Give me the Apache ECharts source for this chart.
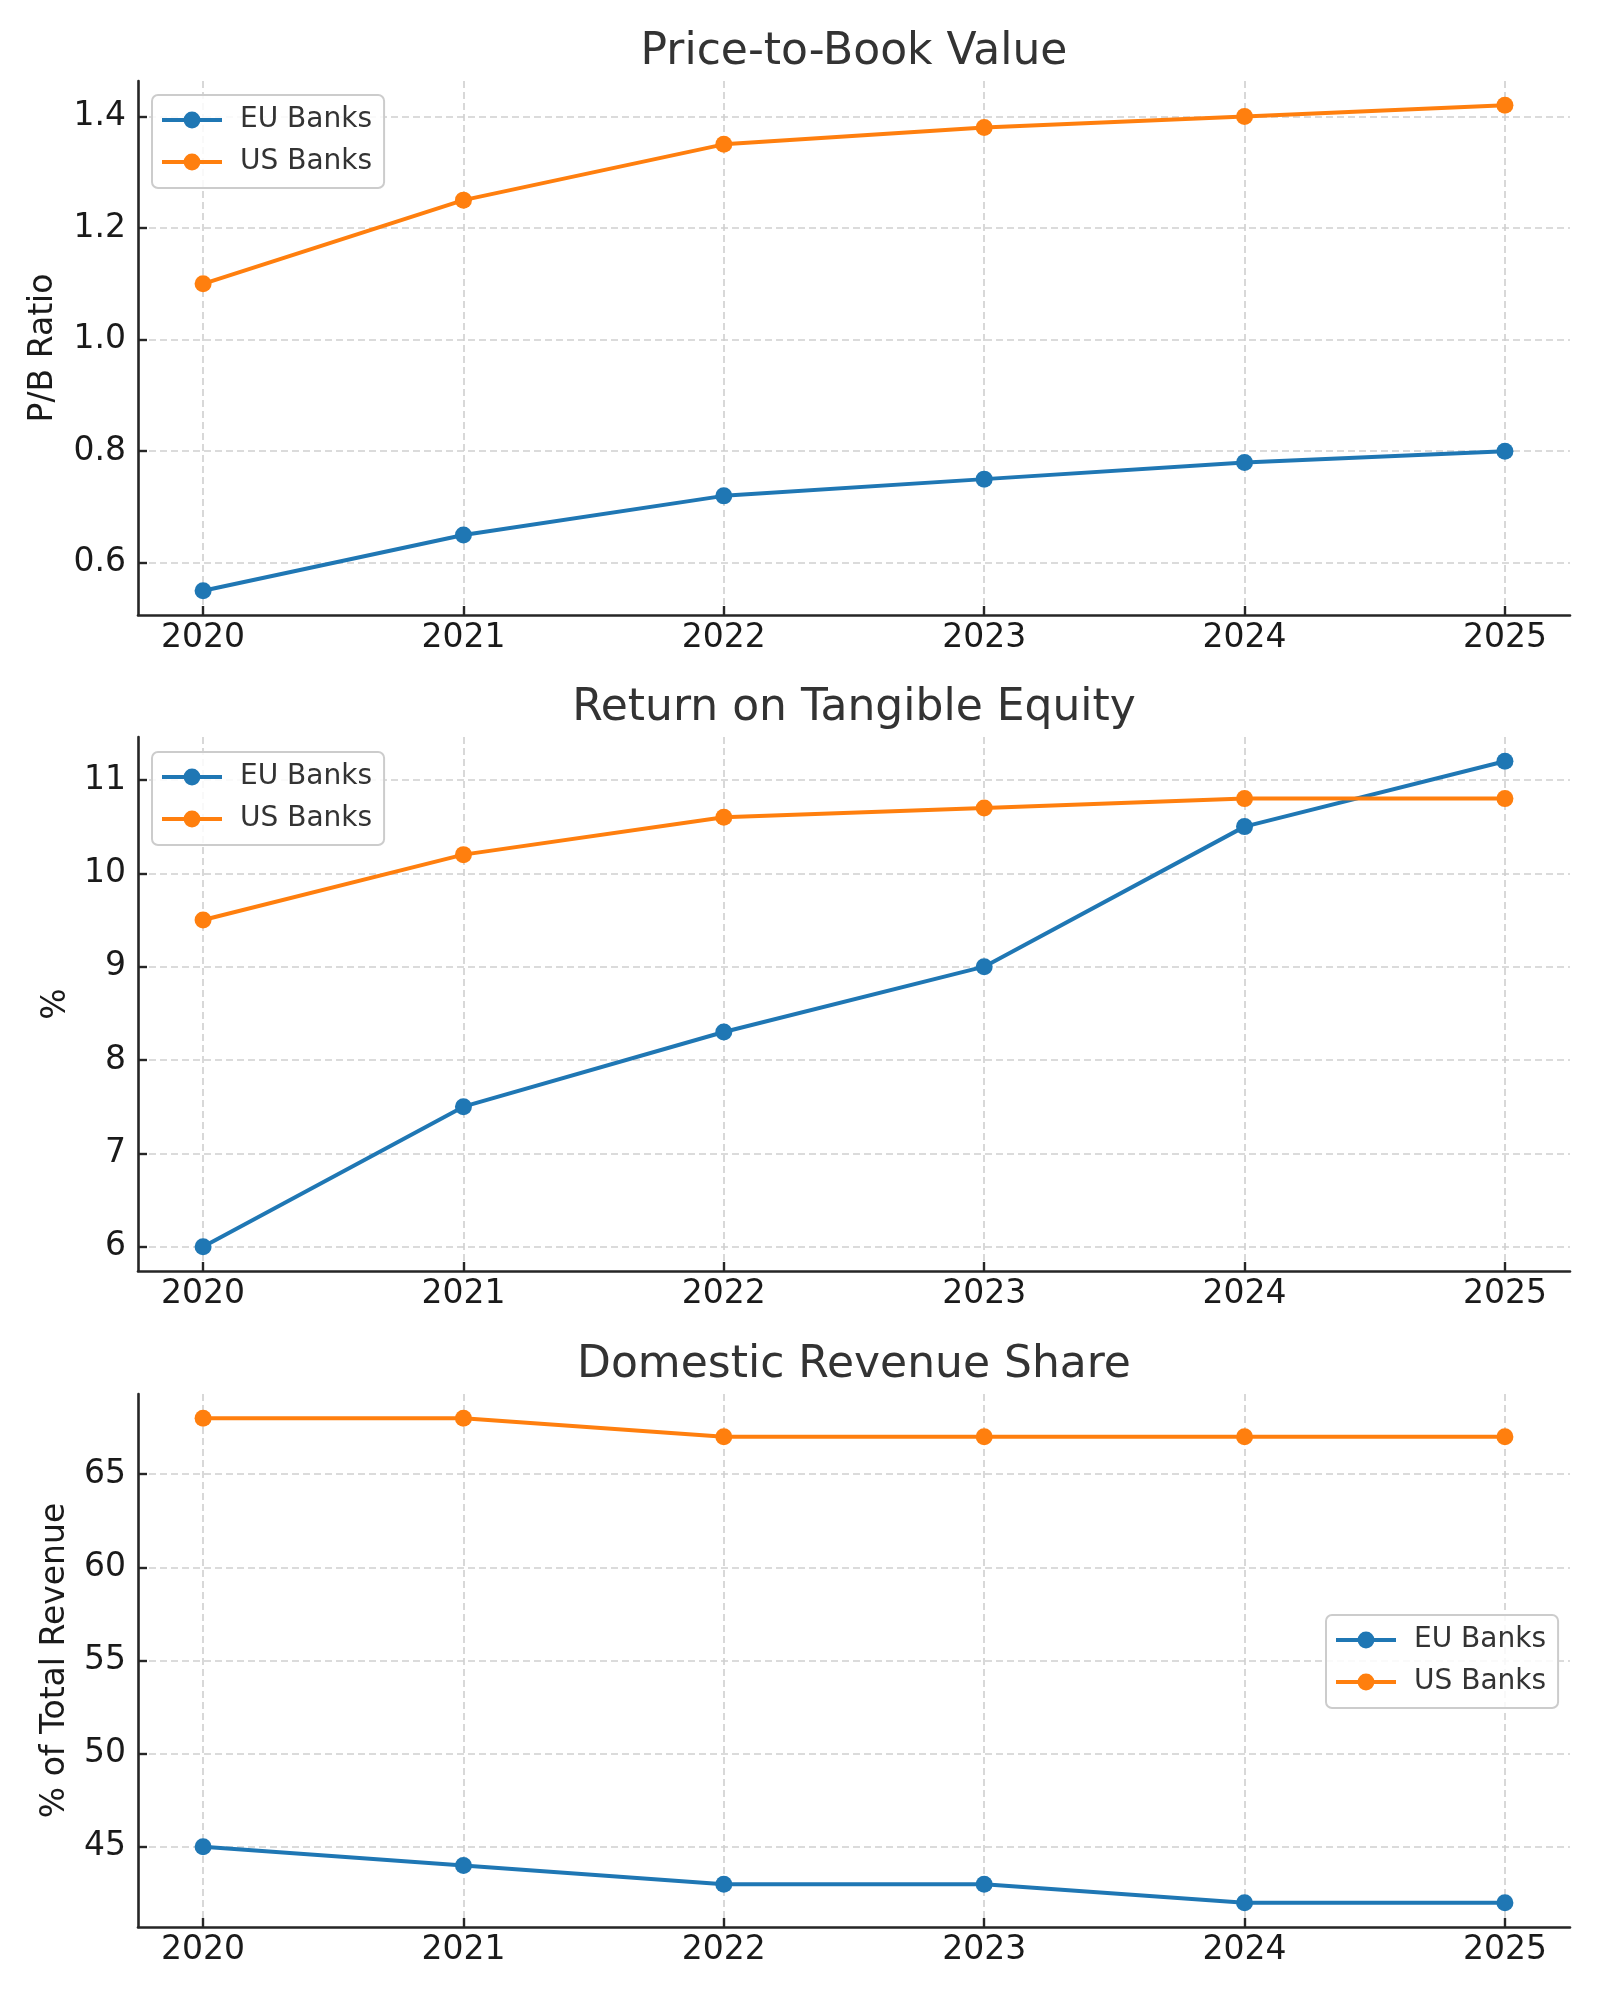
<!DOCTYPE html>
<html>
<head>
<meta charset="utf-8">
<script src="https://cdn.jsdelivr.net/npm/echarts@6/dist/echarts.min.js"></script>
<style>
html,body{margin:0;padding:0;background:#fff;}
#chart{width:1600px;height:2000px;}
</style>
</head>
<body>
<div id="chart"></div>
<script>
// ---- data ----
const years = [2020, 2021, 2022, 2023, 2024, 2025];
const seriesNames = ['EU Banks', 'US Banks'];
const pbEU = [0.55, 0.65, 0.72, 0.75, 0.78, 0.80];
const pbUS = [1.10, 1.25, 1.35, 1.38, 1.40, 1.42];
const roteEU = [6.0, 7.5, 8.3, 9.0, 10.5, 11.2];
const roteUS = [9.5, 10.2, 10.6, 10.7, 10.8, 10.8];
const domEU = [45, 44, 43, 43, 42, 42];
const domUS = [68, 68, 67, 67, 67, 67];
const pbTicks = [0.6, 0.8, 1.0, 1.2, 1.4];
const roteTicks = [6, 7, 8, 9, 10, 11];
const domTicks = [45, 50, 55, 60, 65];
const titles = ['Price-to-Book Value', 'Return on Tangible Equity', 'Domestic Revenue Share'];
const yNames = ['P/B Ratio', '%', '% of Total Revenue'];

// ---- layout / style ----
const FONT = 'DejaVu Sans';
const colors = ['#1f77b4', '#ff7f0e'];
const grids = [
  {left: 138, width: 1432, top: 81, height: 534},
  {left: 138, width: 1432, top: 737, height: 534},
  {left: 138, width: 1432, top: 1394, height: 533}
];
const titleTops = [31, 687, 1344];
const nameGaps = [78, 65, 66];
const legendPos = [{left: 152, top: 95}, {left: 152, top: 752}, {left: 1326, top: 1615}];
const panels = [
  {eu: pbEU, us: pbUS, ticks: pbTicks, fmt: v => v.toFixed(1)},
  {eu: roteEU, us: roteUS, ticks: roteTicks, fmt: v => String(v)},
  {eu: domEU, us: domUS, ticks: domTicks, fmt: v => String(v)}
];

function pad(arrs) {
  const all = [].concat(...arrs);
  const lo = Math.min(...all), hi = Math.max(...all);
  const m = (hi - lo) * 0.05;
  return [lo - m, hi + m];
}
const xPad = (years[years.length - 1] - years[0]) * 0.05;

const gridLine = {show: true, lineStyle: {color: '#cfcfcf', width: 1.6, type: [7, 4]}};
const axisLineStyle = {show: true, onZero: false, lineStyle: {color: '#262626', width: 2.6}};
const tickStyle = {show: true, inside: true, length: 9, lineStyle: {color: '#262626', width: 2.4}};

const option = {
  animation: false,
  backgroundColor: '#ffffff',
  textStyle: {fontFamily: FONT},
  title: titles.map((t, i) => ({
    text: t, left: 854, top: titleTops[i], textAlign: 'center', padding: 0,
    textStyle: {fontFamily: FONT, fontSize: 44, fontWeight: 'normal', color: '#333333', lineHeight: 44}
  })),
  legend: legendPos.map(p => ({
    data: seriesNames, orient: 'vertical', left: p.left, top: p.top,
    padding: [10, 12, 11, 8], itemWidth: 60, itemHeight: 21, itemGap: 12,
    backgroundColor: 'rgba(255,255,255,0.85)', borderColor: '#cccccc', borderWidth: 2, borderRadius: 6,
    lineStyle: {width: 4},
    textStyle: {fontFamily: FONT, fontSize: 28, color: '#333333', lineHeight: 30, padding: [0, 0, 0, 13]}
  })),
  grid: grids,
  xAxis: grids.map((g, i) => ({
    type: 'value', gridIndex: i,
    min: years[0] - xPad, max: years[years.length - 1] + xPad,
    axisLine: axisLineStyle,
    axisTick: Object.assign({customValues: years}, tickStyle),
    axisLabel: {customValues: years, formatter: v => String(v), fontFamily: FONT, fontSize: 33, color: '#1a1a1a', margin: 7, lineHeight: 33},
    splitLine: gridLine
  })),
  yAxis: panels.map((p, i) => {
    const r = pad([p.eu, p.us]);
    return {
      type: 'value', gridIndex: i, min: r[0], max: r[1],
      name: yNames[i], nameLocation: 'middle', nameRotate: 90, nameGap: nameGaps[i],
      nameTextStyle: {fontFamily: FONT, fontSize: 33, color: '#1a1a1a', lineHeight: 33},
      axisLine: axisLineStyle,
      axisTick: Object.assign({customValues: p.ticks}, tickStyle),
      axisLabel: {customValues: p.ticks, formatter: p.fmt, fontFamily: FONT, fontSize: 33, color: '#1a1a1a', margin: 12},
      splitLine: gridLine
    };
  }),
  series: []
};

panels.forEach((p, i) => {
  [p.eu, p.us].forEach((vals, k) => {
    option.series.push({
      name: seriesNames[k], type: 'line', xAxisIndex: i, yAxisIndex: i,
      data: years.map((y, j) => [y, vals[j]]),
      symbol: 'circle', symbolSize: 17, showSymbol: true,
      lineStyle: {width: 4, color: colors[k]},
      itemStyle: {color: colors[k]},
      emphasis: {disabled: true},
      z: 2 + k
    });
  });
});

const chart = echarts.init(document.getElementById('chart'), null, {renderer: 'canvas'});
chart.setOption(option);
</script>
</body>
</html>
